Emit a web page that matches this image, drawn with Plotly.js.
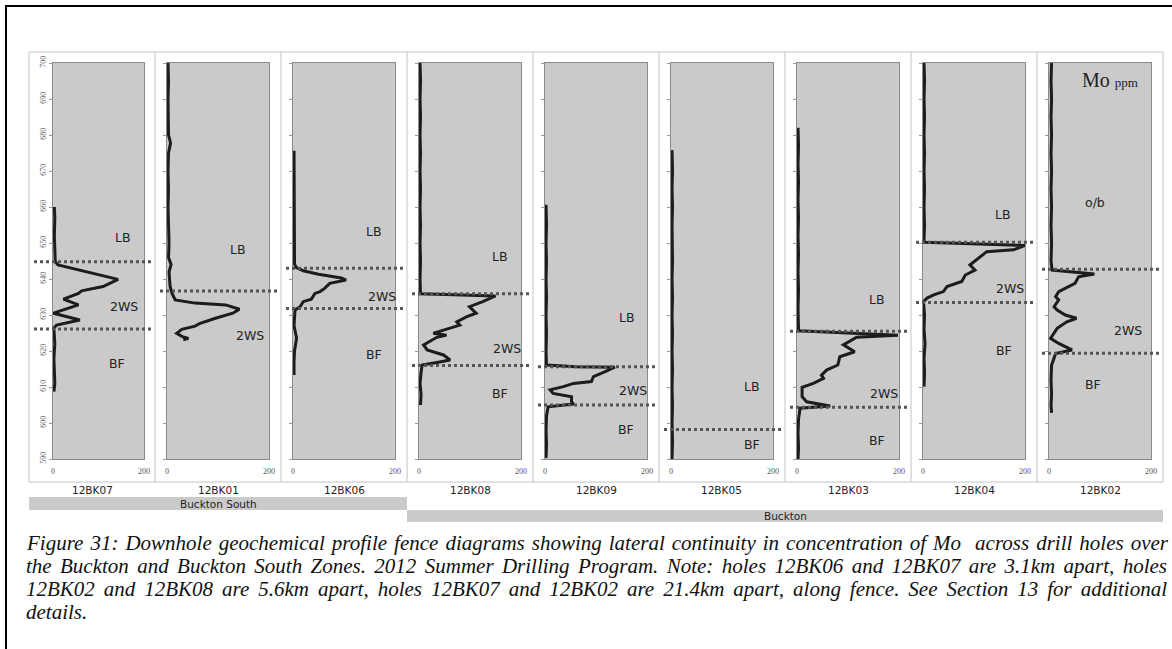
<!DOCTYPE html>
<html>
<head>
<meta charset="utf-8">
<script src="https://cdn.plot.ly/plotly-3.0.1.min.js"></script>
<style>
  html, body { margin: 0; padding: 0; background: #ffffff; }
  #chart { width: 1172px; height: 649px; }
</style>
</head>
<body>
<div id="chart"></div>
<script>
// ---------------- DATA ----------------
const holes = ["12BK07", "12BK01", "12BK06", "12BK08", "12BK09", "12BK05", "12BK03", "12BK04", "12BK02"];
const zones = ["Buckton South", "Buckton"];
const yTickVals = [590, 600, 610, 620, 630, 640, 650, 660, 670, 680, 690, 700];
const xTickVals = [0, 200];
const xTickText = ["0", "200"];

// Mo (ppm) and elevation for every hole
const elev12BK07 = [660, 657, 652, 648, 646.7, 644.8, 643.9, 642.0, 639.9, 637.9, 636.7, 636.0, 634.4, 632.8, 630.5, 628.6, 627.2, 626.4, 625, 622, 618, 614, 611, 608.7];
const mo12BK07   = [3, 4, 3, 4, 3, 5, 11, 74, 143, 110, 63, 56, 23, 56, 1, 59, 8, 2, 3, 4, 2, 3, 4, 2];

const elev12BK01 = [700, 695, 690, 685, 680, 677.8, 675, 670, 665, 660, 655, 650, 646, 644, 642, 638, 636, 634.2, 633.3, 632.8, 631.6, 630.5, 629.1, 627.7, 626.9, 626.0, 624.9, 624.0, 623.5, 623.1];
const mo12BK01   = [2, 3, 2, 3, 3, 7, 3, 2, 3, 2, 3, 4, 3, 8, 4, 6, 10, 16, 55, 115, 142, 129, 95, 65, 55, 29, 19, 30, 42, 32];

const elev12BK06 = [675.6, 670, 665, 660, 655, 650, 645, 644.2, 643.2, 642.3, 641.3, 640.3, 639.7, 638.8, 637.4, 636.5, 636.0, 634.4, 633.7, 632.3, 631.4, 630, 627, 623.6, 620, 617, 613.3];
const mo12BK06   = [2, 2, 3, 2, 3, 2, 2, 3, 6, 20, 50, 95, 104, 72, 62, 53, 43, 36, 20, 14, 4, 3, 2, 7, 3, 2, 2];

const elev12BK08 = [700, 695, 690, 685, 680, 675, 670, 665, 660, 655, 650, 645, 640, 636.5, 635.9, 635.5, 635.3, 633.7, 632.3, 630.5, 629.5, 628.1, 627.2, 625.8, 624.9, 624.4, 623.8, 621.7, 620.3, 618.9, 617.5, 616.8, 616.1, 614, 611, 608, 605];
const mo12BK08   = [2, 3, 2, 3, 2, 3, 2, 3, 2, 3, 2, 3, 2, 2, 3, 100, 150, 125, 99, 112, 93, 74, 80, 48, 28, 54, 35, 9, 16, 48, 61, 35, 6, 4, 2, 4, 3];

const elev12BK09 = [660.6, 655, 650, 645, 640, 635, 630, 625, 620, 616.1, 615.6, 615.5, 614.3, 612.9, 611.5, 611.0, 610.1, 609.2, 608.2, 607.3, 605.9, 605.3, 604.5, 602, 598, 594, 590.3];
const mo12BK09   = [2, 3, 2, 3, 2, 3, 2, 3, 2, 3, 60, 137, 118, 95, 91, 56, 36, 10, 16, 52, 52, 56, 6, 3, 2, 3, 2];

const elev12BK05 = [675.8, 670, 665, 660, 655, 650, 645, 640, 635, 630, 625, 620, 615, 610, 605, 600, 595, 590];
const mo12BK05   = [2, 3, 2, 3, 2, 3, 3, 2, 3, 2, 3, 2, 3, 2, 3, 2, 3, 2];

const elev12BK03 = [682, 677, 672, 667, 662, 657, 652, 647, 642, 637, 632, 627, 625.6, 625.0, 624.4, 623.8, 621.7, 619.8, 618.4, 616.1, 614.7, 613.3, 612.4, 611.0, 609.9, 607.3, 605.9, 604.7, 604.1, 601, 597, 593, 590];
const mo12BK03   = [2, 3, 2, 3, 2, 3, 2, 3, 2, 3, 2, 3, 3, 100, 198, 117, 91, 113, 84, 80, 58, 48, 52, 32, 10, 10, 19, 65, 6, 3, 2, 3, 2];

const elev12BK04 = [700, 695, 690, 685, 680, 675, 670, 665, 660, 655, 651, 650.2, 649.3, 648.1, 647.6, 645.3, 643.9, 642.5, 641.1, 639.3, 637.9, 636.5, 635.6, 634.7, 633.7, 630, 626, 622, 618, 614, 610.1];
const mo12BK04   = [2, 3, 2, 3, 2, 3, 2, 3, 2, 3, 2, 3, 200, 177, 125, 105, 92, 102, 83, 76, 47, 40, 21, 8, 1, 3, 2, 4, 2, 3, 2];

const elev12BK02 = [700, 695, 690, 685, 680, 675, 670, 665, 660, 655, 650, 645, 642.5, 641.4, 640.6, 638.8, 636.5, 635.1, 634.2, 632.3, 631.4, 630.0, 629.1, 628.1, 626.3, 623.5, 622.1, 620.3, 619.3, 616, 612, 608, 605, 602.8];
const mo12BK02   = [5, 4, 5, 4, 5, 4, 5, 4, 5, 4, 5, 4, 6, 89, 58, 51, 19, 13, 19, 10, 16, 32, 54, 35, 16, 3, 19, 45, 13, 5, 4, 5, 4, 5];

// unit contacts (elevation of dotted lines)
const contacts12BK07 = [644.8, 626.1];
const contacts12BK01 = [636.7];
const contacts12BK06 = [643.0, 631.8];
const contacts12BK08 = [635.9, 616.0];
const contacts12BK09 = [615.6, 605.0];
const contacts12BK05 = [598.2];
const contacts12BK03 = [625.5, 604.4];
const contacts12BK04 = [650.2, 633.5];
const contacts12BK02 = [642.7, 619.4];

// unit names per hole
const units12BK07 = ["LB", "2WS", "BF"];
const units12BK01 = ["LB", "2WS"];
const units12BK06 = ["LB", "2WS", "BF"];
const units12BK08 = ["LB", "2WS", "BF"];
const units12BK09 = ["LB", "2WS", "BF"];
const units12BK05 = ["LB", "BF"];
const units12BK03 = ["LB", "2WS", "BF"];
const units12BK04 = ["LB", "2WS", "BF"];
const units12BK02 = ["o/b", "2WS", "BF"];

const captionLines = [
  "Figure 31: Downhole geochemical profile fence diagrams showing lateral continuity in concentration of Mo  across drill holes over",
  "the Buckton and Buckton South Zones. 2012 Summer Drilling Program. Note: holes 12BK06 and 12BK07 are 3.1km apart, holes",
  "12BK02 and 12BK08 are 5.6km apart, holes 12BK07 and 12BK02 are 21.4km apart, along fence. See Section 13 for additional",
  "details."
];

const moData = [mo12BK07, mo12BK01, mo12BK06, mo12BK08, mo12BK09, mo12BK05, mo12BK03, mo12BK04, mo12BK02];
const elevData = [elev12BK07, elev12BK01, elev12BK06, elev12BK08, elev12BK09, elev12BK05, elev12BK03, elev12BK04, elev12BK02];
const contactData = [contacts12BK07, contacts12BK01, contacts12BK06, contacts12BK08, contacts12BK09, contacts12BK05, contacts12BK03, contacts12BK04, contacts12BK02];
const unitData = [units12BK07, units12BK01, units12BK06, units12BK08, units12BK09, units12BK05, units12BK03, units12BK04, units12BK02];

// ---------------- LAYOUT (positions) ----------------
const W = 1172, H = 649;
const PX = x => x / W;
const PY = y => 1 - y / H;
// label placement inside each panel (x in ppm, y in elevation)
const unitPos = [
  [[154, 651.5], [156, 632.3], [140, 616.4]],
  [[140, 648.1], [163, 624.2]],
  [[159, 653.1], [174, 635.1], [159, 618.9]],
  [[159, 646.2], [172, 620.6], [159, 608.1]],
  [[160, 629.4], [173, 608.9], [159, 598.2]],
  [[158, 610.1], [158, 594.1]],
  [[157, 634.2], [171, 608.2], [157, 595.1]],
  [[157, 657.8], [171, 637.4], [159, 620.1]],
  [[90, 661.2], [155, 625.8], [87, 610.6]]
];

const traces = [];
const shapes = [];
const annotations = [];
const layout = {
  width: W, height: H,
  margin: {l: 0, r: 0, t: 0, b: 0},
  paper_bgcolor: "#ffffff",
  plot_bgcolor: "#cacaca",
  showlegend: false,
  font: {family: "DejaVu Sans", color: "#222"}
};

const plotTop = 63, plotBot = 459;
const serif = "Liberation Serif, Times New Roman, serif";

holes.forEach((h, k) => {
  const L = 29 + 126 * k;
  const x0 = k === 0 ? 53 : L + 12;
  const x1 = k === 0 ? 144 : L + 114;
  const sfx = k === 0 ? "" : String(k + 1);
  const xa = "x" + sfx, ya = "y" + sfx;

  layout["xaxis" + sfx] = {
    domain: [PX(x0), PX(x1)], range: [0, 200], anchor: ya,
    tickvals: xTickVals, ticktext: xTickText,
    tickfont: {family: serif, size: 8, color: "#555"},
    ticks: "outside", ticklen: 4, tickcolor: "rgba(0,0,0,0)",
    showline: true, mirror: true, linecolor: "#8a8a8a", linewidth: 1,
    showgrid: false, zeroline: false, fixedrange: true
  };
  layout["yaxis" + sfx] = {
    domain: [PY(plotBot), PY(plotTop)], range: [590, 700], anchor: xa,
    tickvals: yTickVals, showticklabels: k === 0, tickangle: -90,
    tickfont: {family: serif, size: 8, color: "#666"},
    ticks: "outside", ticklen: 3, tickcolor: "#9a9a9a",
    showline: true, mirror: true, linecolor: "#8a8a8a", linewidth: 1,
    showgrid: false, zeroline: false, fixedrange: true
  };

  traces.push({
    type: "scatter", mode: "lines", x: moData[k], y: elevData[k],
    xaxis: xa, yaxis: ya, hoverinfo: "skip",
    line: {color: "#1c1c1c", width: 3}
  });

  contactData[k].forEach(c => {
    shapes.push({
      type: "line", xref: "paper", yref: ya,
      x0: PX(L + 5), x1: PX(L + 122), y0: c, y1: c,
      line: {color: "#555555", width: 3, dash: "3px,3px"}, layer: "above"
    });
  });

  unitData[k].forEach((u, i) => {
    annotations.push({
      xref: xa, yref: ya, x: unitPos[k][i][0], y: unitPos[k][i][1],
      text: u, showarrow: false,
      font: {family: "DejaVu Sans", size: 12.5, color: "#222"}
    });
  });

  annotations.push({
    xref: "paper", yref: "paper", x: PX(L + 63), y: PY(490),
    text: h, showarrow: false, xanchor: "center", yanchor: "middle",
    font: {family: "DejaVu Sans", size: 10.5, color: "#222"}
  });

  if (k > 0) {
    shapes.push({type: "line", xref: "paper", yref: "paper",
      x0: PX(L), x1: PX(L), y0: PY(52), y1: PY(482),
      line: {color: "#c4c4c4", width: 1}});
  }
});

// panel frame
shapes.push({type: "rect", xref: "paper", yref: "paper",
  x0: PX(29), x1: PX(1163), y0: PY(482), y1: PY(52),
  line: {color: "#c4c4c4", width: 1}});

// zone bars
const zoneSpans = [[29, 407, 497, 510], [407, 1163, 510, 522]];
zones.forEach((z, i) => {
  const s = zoneSpans[i];
  shapes.push({type: "rect", xref: "paper", yref: "paper",
    x0: PX(s[0]), x1: PX(s[1]), y0: PY(s[3]), y1: PY(s[2]),
    fillcolor: "#cacaca", line: {width: 0}, layer: "below"});
  annotations.push({xref: "paper", yref: "paper",
    x: PX((s[0] + s[1]) / 2), y: PY((s[2] + s[3]) / 2),
    text: z, showarrow: false, xanchor: "center", yanchor: "middle",
    font: {family: "DejaVu Sans", size: 10.5, color: "#222"}});
});

// Mo ppm label
annotations.push({xref: "paper", yref: "paper", x: PX(1110), y: PY(80),
  text: "Mo <span style=\"font-size:13px\">ppm</span>", showarrow: false,
  xanchor: "center", yanchor: "middle",
  font: {family: serif, size: 20, color: "#222"}});

// outer black frame (top/left visible)
shapes.push({type: "rect", xref: "paper", yref: "paper",
  x0: PX(6), x1: PX(1190), y0: PY(665), y1: PY(6),
  line: {color: "#000000", width: 2}});

// caption
const capY = [543, 566, 589, 612];
captionLines.forEach((t, i) => {
  annotations.push({xref: "paper", yref: "paper", x: PX(24), y: PY(capY[i]),
    text: t, showarrow: false, xanchor: "left", yanchor: "middle", align: "left",
    font: {family: serif, size: 21, color: "#111", style: "italic"}});
});

layout.shapes = shapes;
layout.annotations = annotations;

Plotly.newPlot("chart", traces, layout, {staticPlot: true, displayModeBar: false}).then(() => {
  // justify the first three caption lines
  const target = 1165 - 24;
  document.querySelectorAll("#chart .annotation-text").forEach(el => {
    const txt = el.textContent;
    const idx = captionLines.indexOf(txt);
    if (idx >= 0 && idx < 3) {
      const len = el.getComputedTextLength();
      const spaces = (txt.match(/ /g) || []).length;
      if (spaces > 0 && len < target) {
        el.style.wordSpacing = ((target - len) / spaces) + "px";
      }
    }
  });
});
</script>
</body>
</html>
